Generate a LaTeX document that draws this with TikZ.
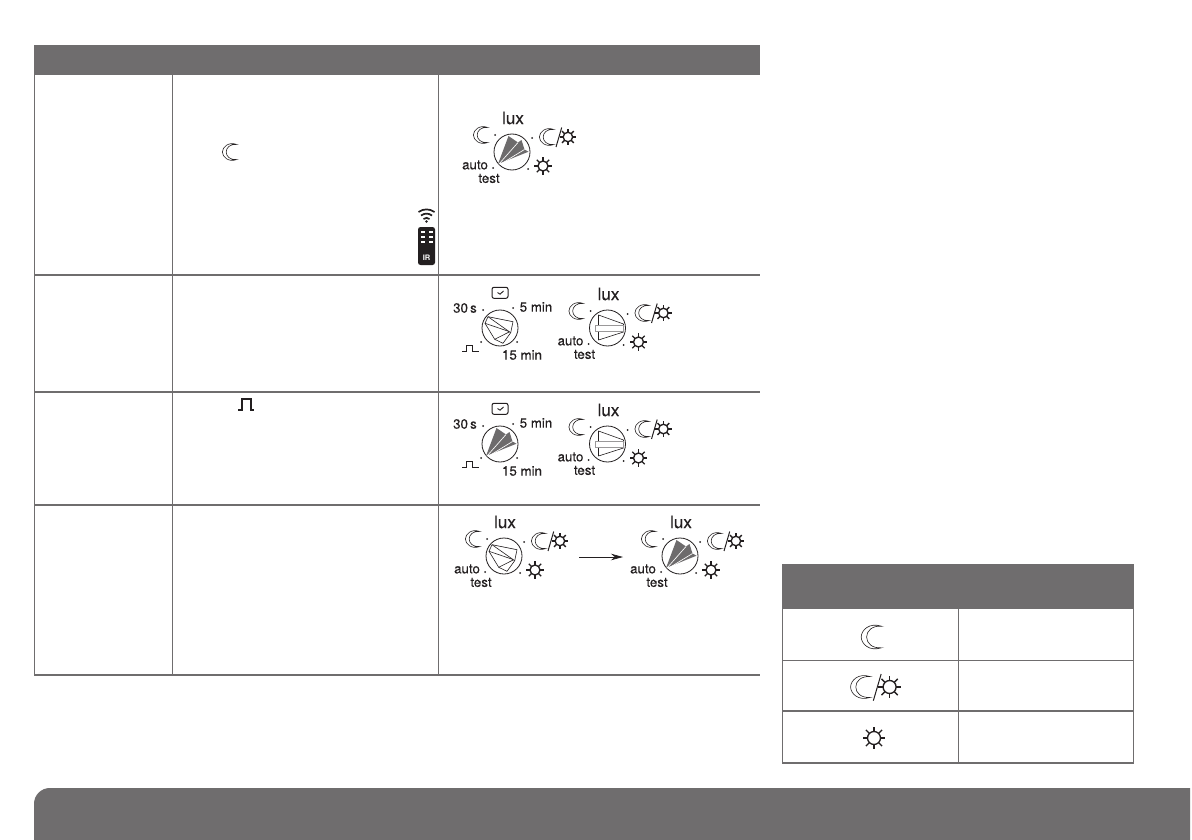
\documentclass[tikz,border=0pt]{standalone}
\usepackage{fontspec}
\setmainfont{TeX Gyre Heros}
\newfontfamily\luxfont[FakeBold=0.5]{TeX Gyre Heros}
\newfontfamily\lblfont[FakeBold=0.12]{TeX Gyre Heros}
\usetikzlibrary{arrows.meta}
\definecolor{band}{HTML}{6F6D6E}
\definecolor{ink}{HTML}{231F20}
\definecolor{bladefill}{HTML}{6D6B6C}
\definecolor{barline}{HTML}{9A9899}
\tikzset{
  x=1pt,y=-1pt,
  rule/.style={draw=band,line width=1.3pt},
  bandfill/.style={fill=band,draw=none},
  lbl/.style={inner sep=0pt,text=ink,font=\lblfont\fontsize{13.3}{15}\selectfont},
  luxlbl/.style={inner sep=0pt,text=ink,font=\luxfont\fontsize{17}{19}\selectfont},
  iconline/.style={draw=ink,line width=0.6pt},
  sunline/.style={draw=ink,line width=1.35pt},
  dialring/.style={draw=ink,line width=0.8pt,fill=white},
  bladeopen/.style={fill=white,draw=ink,line width=0.6pt,line join=round},
  tickdot/.style={fill=ink,draw=none},
}
% crescent moon #1,#2 = centre, #3 = scale
\newcommand{\moonicon}[3]{%
  \begin{scope}[shift={(#1,#2)},scale=#3]
    \draw[iconline,fill=white] (7,-8) .. controls (-2,-11) and (-8,-5) .. (-8,0)
      .. controls (-8,5) and (-2,11) .. (7,8)
      .. controls (0,8.5) and (-4,4.5) .. (-4,0)
      .. controls (-4,-4.5) and (0,-8.5) .. (7,-8) -- cycle;
  \end{scope}}
% sun #1,#2 = centre, #3 = scale
\newcommand{\sunicon}[3]{%
  \begin{scope}[shift={(#1,#2)},scale=#3]
    \draw[sunline] (0,0) circle (5);
    \foreach \a in {0,45,...,315}{\draw[sunline] (\a:5) -- (\a:8.8);}
  \end{scope}}
\newcommand{\moonsun}[3]{%
  \moonicon{#1}{#2}{#3}%
  \begin{scope}[shift={(#1,#2)},scale=#3]
    \draw[draw=ink,line width=1pt] (15.5,-10) -- (9.5,10.5);
    \sunicon{22}{0}{1}
  \end{scope}}
% pointer variants (centred on the dial)
\newcommand{\fandark}{%
  \fill[bladefill] (-14,12) -- (-3.5,-16) -- (6,-9.5) -- (9.5,-12) -- (12.5,-2.5) -- (16.5,-0.3) -- cycle;
  \draw[white,line width=0.65pt] (-13,12) -- (6,-9.5) (-12,12.5) -- (12.5,-2.5);
}
\newcommand{\fanopen}{%
  \draw[bladeopen] (10.7,4.7) -- (3,15.3) -- (-5.3,11.3) -- (-15,-4.7) -- (-12,-11.3) -- (13,-6.3) -- cycle;
  \draw[bladeopen] (9,3.5) -- (-15,-4.7);
  \draw[bladeopen] (9.7,3.7) -- (-5.3,11.3) (10.7,4.7) -- (-12,-11.3);
}
\newcommand{\fanright}{%
  \draw[bladeopen] (-9,-13) -- (16,-4) -- (16,4) -- (-9,12) -- cycle;
  \draw[draw=barline,fill=white,line width=0.9pt] (-12,-3) rectangle (16,3);
}
% #1 name prefix, #2,#3 centre, #4 pointer
\newcommand{\luxdial}[4]{%
  \begin{scope}[shift={(#2,#3)}]
    \node[luxlbl] (#1lux) at (1,-34) {lux};
    \moonicon{-31}{-17}{0.95}
    \moonsun{35}{-15}{0.95}
    \sunicon{31}{14}{1}
    \node[lbl] (#1auto) at (-37,13) {auto};
    \node[lbl] (#1test) at (-23,26.5) {test};
    \fill[tickdot] (-17,-17) circle (1) (20,-14) circle (1) (16,17) circle (1) (-19,16) circle (1);
    \draw[dialring] (0,0) circle (18);
    #4
  \end{scope}}
\newcommand{\timerdial}[4]{%
  \begin{scope}[shift={(#2,#3)}]
    \draw[draw=ink,line width=1pt,rounded corners=2pt] (-8,-40.7) rectangle (8,-29.7);
    \draw[draw=ink,line width=0.9pt] (-2.5,-35.5) -- (0,-33.8) -- (3.5,-37);
    \node[lbl] (#1thirty) at (-35,-20) {30\,s};
    \node[lbl] (#1five) at (36,-21) {5 min};
    \node[lbl] (#1fifteen) at (22,27) {15 min};
    \draw[draw=ink,line width=1pt] (-38,23.5) -- (-33.5,23.5) -- (-33.5,17.5) -- (-27.5,17.5) -- (-27.5,23.5) -- (-21,23.5);
    \fill[tickdot] (-17,-18) circle (1) (13,-20) circle (1) (17,14) circle (1) (-19,14) circle (1);
    \draw[dialring] (0,0) circle (18);
    #4
  \end{scope}}
\begin{document}
\begin{tikzpicture}
\useasboundingbox (0,0) rectangle (1192,840);
\fill[white] (0,0) rectangle (1192,840);

% main table
\fill[bandfill] (34,45) rectangle (760,75);
\draw[rule] (34.5,75) -- (34.5,675) -- (760,675);
\draw[rule] (172.5,75) -- (172.5,675);
\draw[rule] (438.5,75) -- (438.5,675);
\draw[rule] (34,275) -- (760,275);
\draw[rule] (34,392) -- (760,392);
\draw[rule] (34,505) -- (760,505);

% side table
\fill[bandfill] (782,564) rectangle (1134,609);
\draw[rule] (782.5,609) -- (782.5,763) -- (1133.5,763) -- (1133.5,609);
\draw[rule] (958.5,609) -- (958.5,763);
\draw[rule] (782,660.5) -- (1134,660.5);
\draw[rule] (782,711) -- (1134,711);
\moonicon{872}{637}{1.35}
\moonsun{861}{687}{1.3}
\sunicon{874}{738}{1.3}

% bottom band
\fill[bandfill] (34,840) -- (34,804) .. controls (34,795) and (41,788) .. (50,788) -- (1190,788) -- (1190,840) -- cycle;

% cell icons
\moonicon{230}{152}{0.95}
\draw[draw=ink,line width=2pt] (238,409.5) -- (242,409.5) -- (242,399) -- (250.5,399) -- (250.5,409.5) -- (253.5,409.5);

% remote control
\begin{scope}[shift={(426.5,222)}]
  \draw[ink,line width=1.7pt] (-8,-10) .. controls (-3,-13.5) and (3,-13.5) .. (8,-10);
  \draw[ink,line width=1.7pt] (-5.5,-6.5) .. controls (-2,-9) and (2,-9) .. (5.5,-6.5);
  \draw[ink,line width=1.7pt] (-3,-3) .. controls (-1,-4.5) and (1,-4.5) .. (3,-3);
  \fill[ink] (0,-0.5) circle (1.4);
\end{scope}
\fill[ink,rounded corners=2.5pt] (418,227) rectangle (435,265);
\foreach \ry in {231.7,237.3,242.3}{
  \fill[white] (421,\ry-0.9) rectangle (425,\ry+0.9);
  \fill[white] (428.5,\ry-0.9) rectangle (432.5,\ry+0.9);
}
\node[inner sep=0pt,text=white,font=\bfseries\fontsize{7.5}{8}\selectfont] (remoteir) at (426.5,257.5) {IR};

% dials
\luxdial{a}{512}{152}{\fandark}
\timerdial{b}{500}{328}{\fanopen}
\luxdial{c}{607.5}{328}{\fanright}
\timerdial{d}{500}{444}{\fandark}
\luxdial{e}{607.5}{444}{\fanright}
\luxdial{f}{504}{556}{\fanopen}
\luxdial{g}{680}{556}{\fandark}

% arrow between the last two dials
\coordinate (arrowfrom) at (579,557);
\coordinate (arrowto) at (623,557);
\draw[draw=ink,line width=0.7pt,-{Stealth[length=12pt,width=6.5pt]}] (arrowfrom) -- (arrowto);
\end{tikzpicture}
\end{document}
